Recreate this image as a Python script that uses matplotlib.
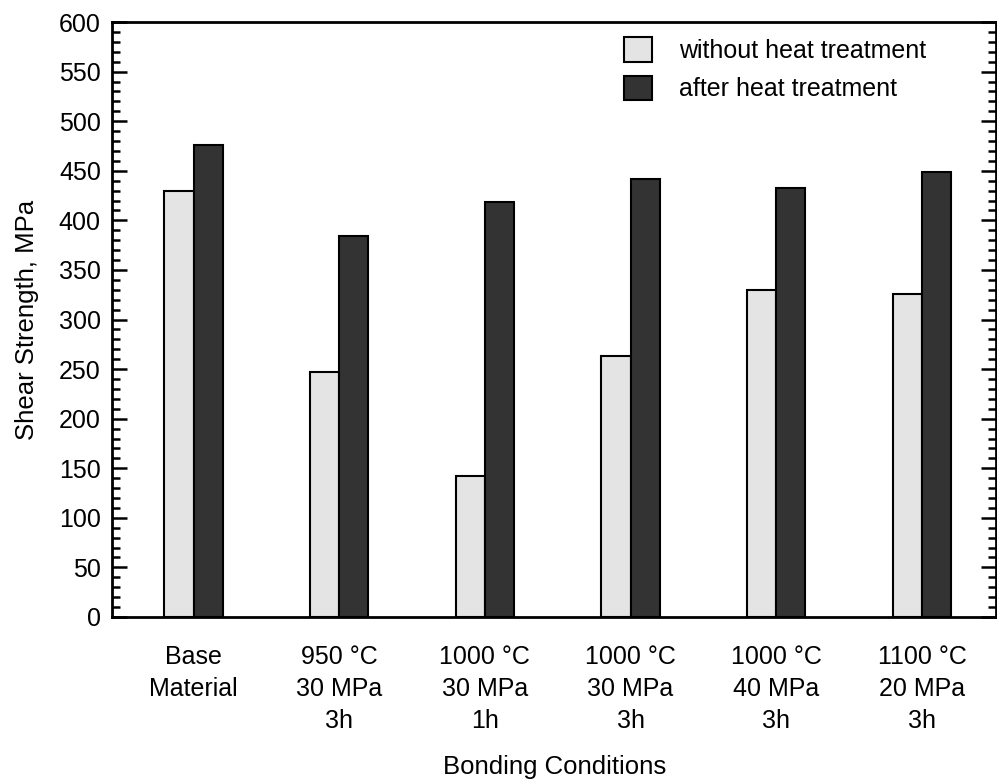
import matplotlib.pyplot as plt
import numpy as np
from matplotlib.ticker import MultipleLocator

plt.rcParams['font.family'] = ['Liberation Sans', 'DejaVu Sans']

conditions = ["Base\nMaterial", "950 °C\n30 MPa\n3h", "1000 °C\n30 MPa\n1h",
              "1000 °C\n30 MPa\n3h", "1000 °C\n40 MPa\n3h", "1100 °C\n20 MPa\n3h"]
without_ht = [430, 247, 142, 263, 330, 326]
after_ht = [476, 384, 418, 442, 433, 449]


def plot_strength():
    x = np.arange(len(conditions))
    w = 0.2

    fig = plt.figure(figsize=(9.97, 7.81), dpi=100)
    ax = fig.add_axes([0.1123, 0.21, 0.887, 0.7618])

    ax.bar(x - w / 2, without_ht, w, color="#e4e4e4", edgecolor="black",
           linewidth=1.5, label="without heat treatment")
    ax.bar(x + w / 2, after_ht, w, color="#333333", edgecolor="black",
           linewidth=1.5, label="after heat treatment")

    ax.set_xlim(-0.56, 5.51)
    ax.set_ylim(0, 600)
    ax.yaxis.set_major_locator(MultipleLocator(50))
    ax.yaxis.set_minor_locator(MultipleLocator(10))
    ax.tick_params(axis='y', which='both', direction='in', left=True, right=True,
                   width=1.8, labelsize=18, pad=8)
    ax.tick_params(axis='y', which='major', length=11)
    ax.tick_params(axis='y', which='minor', length=6)

    ax.set_xticks(x)
    ax.set_xticklabels(conditions, fontsize=18, linespacing=1.42)
    ax.tick_params(axis='x', length=0, pad=20)

    for s in ax.spines.values():
        s.set_linewidth(2)

    ax.set_ylabel("Shear Strength, MPa", fontsize=18.5, labelpad=14)
    ax.set_xlabel("Bonding Conditions", fontsize=18.5, labelpad=16)

    ax.legend(loc="upper left", bbox_to_anchor=(0.554, 1.012), frameon=False,
              fontsize=18, handlelength=1.12, handleheight=1.12,
              handletextpad=1.05, labelspacing=0.5)

    fig.savefig("out.png", dpi=100)


if __name__ == "__main__":
    plot_strength()
